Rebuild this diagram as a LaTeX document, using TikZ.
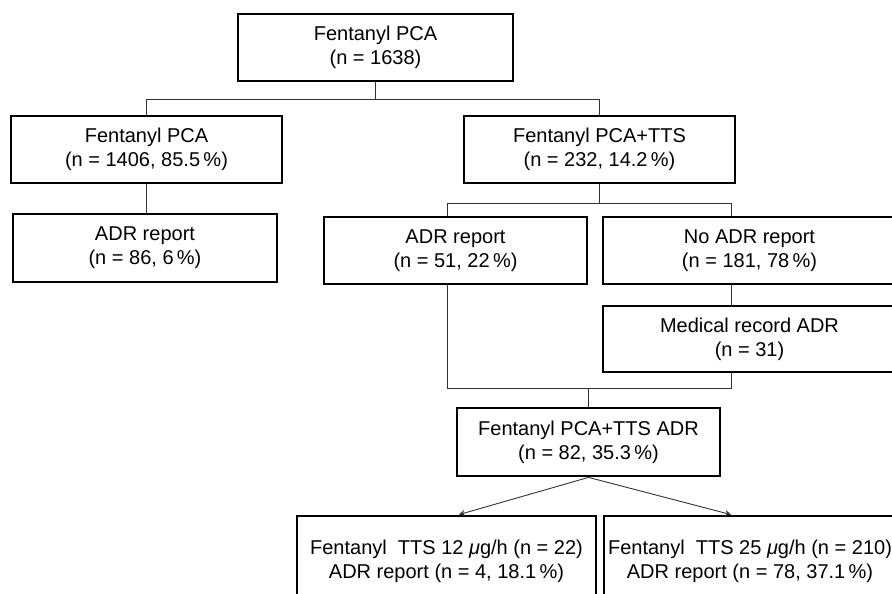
\documentclass[tikz,border=0pt]{standalone}
\usepackage{fontspec}
\setmainfont{Liberation Sans}
\usetikzlibrary{arrows.meta,calc}
\tikzset{
  boxnode/.style={draw=black, line width=2.8pt, align=center, inner sep=0pt,
    font=\fontsize{20}{24}\selectfont},
  conn/.style={draw=black!80, line width=0.9pt},
  arr/.style={conn, -{Stealth[length=6pt,width=6pt]}}
}
\begin{document}
\begin{tikzpicture}[x=1pt,y=-1pt]
\useasboundingbox (0,0) rectangle (892,594);
\clip (0,0) rectangle (892,594);
\fill[white] (0,0) rectangle (892,594);

\node[boxnode, minimum width=275pt, minimum height=67pt] (top) at (375.5,47.5) {Fentanyl PCA\\(n = 1638)};
\node[boxnode, minimum width=271pt, minimum height=67pt] (pca) at (146.5,149.5) {Fentanyl PCA\\(n = 1406, 85.5\,\%)};
\node[boxnode, minimum width=271pt, minimum height=67pt] (tts) at (599.5,149.5) {Fentanyl PCA+TTS\\(n = 232, 14.2\,\%)};
\node[boxnode, minimum width=264pt, minimum height=68pt] (adrA) at (145,248) {ADR report\\(n = 86, 6\,\%)};
\node[boxnode, minimum width=263pt, minimum height=67pt] (adrB) at (455.5,250.5) {ADR report\\(n = 51, 22\,\%)};
\node[boxnode, minimum width=293pt, minimum height=67pt] (noadr) at (749.5,250.5) {No ADR report\\(n = 181, 78\,\%)};
\node[boxnode, minimum width=293pt, minimum height=66pt] (med) at (749.5,339) {Medical record ADR\\(n = 31)};
\node[boxnode, minimum width=263pt, minimum height=68pt] (ttsadr) at (588.5,442) {Fentanyl PCA+TTS ADR\\(n = 82, 35.3\,\%)};
\node[boxnode, minimum width=299pt, minimum height=90pt] (low) at (446.5,561) {Fentanyl~ TTS 12 \textit{μ}g/h (n = 22)\\ADR report (n = 4, 18.1\,\%)};
\node[boxnode, minimum width=292pt, minimum height=90pt] (high) at (750,561) {Fentanyl~ TTS 25 \textit{μ}g/h (n = 210)\\ADR report (n = 78, 37.1\,\%)};

% top split
\draw[conn] (top.south) -- ++(0,17) coordinate (j1);
\draw[conn] (pca.north) |- (j1) -| (tts.north);
\draw[conn] (pca.south) -- (adrA.north -| pca.south);
% TTS split
\draw[conn] (tts.south) -- ++(0,19) coordinate (j2);
\draw[conn] ([xshift=-8.5pt]adrB.north) |- (j2) -| ([xshift=-18.5pt]noadr.north);
\draw[conn] ([xshift=-18.5pt]noadr.south) -- ([xshift=-18.5pt]med.north);
% merge
\coordinate (j3) at ($(ttsadr.north)+(0,-18)$);
\draw[conn] ([xshift=-8.5pt]adrB.south) |- (j3) -| ([xshift=-18.5pt]med.south);
\draw[conn] (j3) -- (ttsadr.north);
% arrows
\draw[arr] (ttsadr.south) -- ([xshift=12.5pt]low.north);
\draw[arr] (ttsadr.south) -- ([xshift=-19pt]high.north);
\end{tikzpicture}
\end{document}
